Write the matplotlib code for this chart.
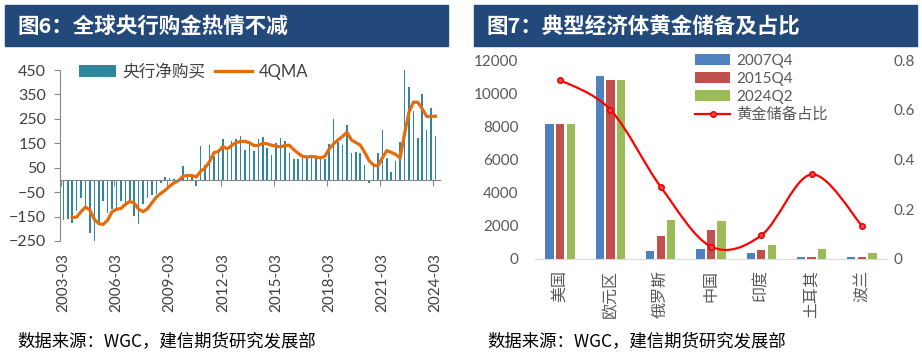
import numpy as np
import matplotlib
matplotlib.use('Agg')
import matplotlib.pyplot as plt
from matplotlib.patches import Rectangle, PathPatch
from matplotlib.lines import Line2D
from matplotlib.path import Path

plt.rcParams['font.family'] = ['Lato', 'Noto Sans CJK SC', 'DejaVu Sans']

nan = float('nan')

# 图6：央行季度净购买（吨），2003Q1 起
cb_net = [-165, -160, -175, -127, -73, -113, -216, -257, -182, -86,
          -134, -120, -113, -86, -99, -86, -147, -182, -99, -72,
          -62, -57, -14, 11, 8, 3, 5, 59, 11, 15,
          -23, 140, 60, 145, 100, 110, 168, 120, 159, 168,
          178, 123, 148, 117, 168, 175, 132, 102, 150, 170,
          160, 109, 84, 87, 96, 93, 92, 93, 90, 84,
          147, 250, 155, 145, 226, 112, 116, 110, 61, -12,
          55, 112, 205, 88, 33, 79, 157, 450, 382, 283,
          170, 353, 205, 296, 180]
qma4 = [nan, nan, -154, -152, -130, -111, -124, -161, -179, -182,
        -165, -130, -120, -117, -100, -88, -95, -120, -130, -118,
        -93, -70, -55, -42, -25, -12, -3, 15, 18, 18,
        12, 35, 50, 75, 112, 116, 137, 127, 141, 153,
        157, 158, 152, 141, 141, 150, 148, 142, 138, 135,
        141, 142, 124, 109, 96, 94, 96, 94, 90, 96,
        127, 148, 164, 178, 195, 164, 153, 143, 113, 79,
        61, 57, 90, 120, 113, 104, 90, 189, 277, 318,
        318, 291, 260, 260, 261]
date_labels = ['2003-03', '2006-03', '2009-03', '2012-03',
               '2015-03', '2018-03', '2021-03', '2024-03']

# 图7：黄金储备（吨）及占比
countries = ['美国', '欧元区', '俄罗斯', '中国', '印度', '土耳其', '波兰']
gold_2007q4 = [8133, 11050, 455, 600, 358, 116, 103]
gold_2015q4 = [8133, 10790, 1415, 1762, 557, 117, 103]
gold_2024q2 = [8133, 10770, 2336, 2264, 840, 585, 377]
gold_share = [0.72, 0.60, 0.29, 0.05, 0.095, 0.34, 0.134]

W, H = 922, 354
fig = plt.figure(figsize=(W / 100, H / 100), dpi=100)


def box(x0, y0, x1, y1):
    return [x0 / W, 1 - y1 / H, (x1 - x0) / W, (y1 - y0) / H]


# 标题栏
for x0, x1, title in [(5, 448, '图6：全球央行购金热情不减'),
                      (474, 917, '图7：典型经济体黄金储备及占比')]:
    fig.patches.append(Rectangle((x0 / W, 1 - 46 / H), (x1 - x0) / W, 41 / H,
                                 transform=fig.transFigure, color='#23497B'))
    fig.text((x0 + 12) / W, 1 - 26 / H, title, color='white', fontsize=15.5,
             fontweight='bold', va='center', family=['Noto Sans CJK SC'])

# ---- 图6 ----
ax = fig.add_axes(box(60, 70, 440, 241))
x = np.arange(len(cb_net))
bars = ax.bar(x, cb_net, width=0.35, color='#31859C')
line, = ax.plot(x, qma4, color='#E46C0A', lw=2.3, solid_joinstyle='round')
ax.set_xlim(-0.75, 85)
ax.set_ylim(-250, 450)
ax.set_yticks(range(-250, 451, 100))
for s in ['top', 'right']:
    ax.spines[s].set_visible(False)
ax.spines['left'].set_color('#868686')
ax.spines['bottom'].set_position(('data', 0))
ax.spines['bottom'].set_color('#868686')
tick_pos = np.arange(len(date_labels)) * 12
ax.set_xticks(tick_pos - 0.5, [''] * len(tick_pos))
ax.tick_params(axis='x', length=4, color='#868686')
ax.tick_params(axis='y', length=4, color='#868686', labelsize=11.5,
               labelcolor='#404040', pad=6)
sec = ax.secondary_xaxis('bottom')
sec.spines['bottom'].set_visible(False)
sec.set_xticks(tick_pos, date_labels, rotation=90)
sec.tick_params(length=0, pad=9, labelsize=11, labelcolor='#404040')
ax.legend([bars, line], ['央行净购买', '4QMA'], loc='upper left',
          bbox_to_anchor=(79 / W, 1 - 64 / H),
          bbox_transform=fig.transFigure, ncol=2, frameon=False, fontsize=12,
          labelcolor='#404040', handlelength=2.2, columnspacing=0.6,
          handletextpad=0.4, borderaxespad=0, borderpad=0)

# ---- 图7 ----
ax1 = fig.add_axes(box(535, 60, 887, 259))
xc = np.arange(len(countries))
bw, off = 0.165, 0.21
b1 = ax1.bar(xc - off, gold_2007q4, bw, color='#4F81BD')
b2 = ax1.bar(xc, gold_2015q4, bw, color='#C0504D')
b3 = ax1.bar(xc + off, gold_2024q2, bw, color='#9BBB59')
ax1.set_xlim(-0.5, 6.5)
ax1.set_ylim(0, 12000)
ax1.set_yticks(range(0, 12001, 2000))
for s in ['top', 'right', 'left']:
    ax1.spines[s].set_visible(False)
ax1.spines['bottom'].set_color('#D9D9D9')
ax1.set_xticks(xc, countries, rotation=90)
ax1.tick_params(axis='x', length=0, pad=8, labelsize=11.5, labelcolor='#595959')
ax1.tick_params(axis='y', length=0, pad=12, labelsize=11, labelcolor='#595959')

ax2 = ax1.twinx()
ax2.set_ylim(0, 0.8)
ax2.set_yticks([0, 0.2, 0.4, 0.6, 0.8], ['0', '0.2', '0.4', '0.6', '0.8'])
for s in ax2.spines.values():
    s.set_visible(False)
ax2.tick_params(axis='y', length=0, pad=5, labelsize=11, labelcolor='#595959')

# 平滑曲线（三次贝塞尔）
pts = np.column_stack([xc, gold_share]).astype(float)
verts, codes = [pts[0]], [Path.MOVETO]
n = len(pts)
for i in range(n - 1):
    p0, p1 = pts[max(i - 1, 0)], pts[i]
    p2, p3 = pts[i + 1], pts[min(i + 2, n - 1)]
    verts += [p1 + (p2 - p0) / 6, p2 - (p3 - p1) / 6, p2]
    codes += [Path.CURVE4] * 3
ax2.add_patch(PathPatch(Path(verts, codes), fill=False, edgecolor='#FF0000', lw=1.6))
ax2.plot(xc, gold_share, 'o', ms=4, mfc='#FF4040', mec='#E00000', mew=1)

line_handle = Line2D([], [], color='#FF0000', lw=1.6, marker='o', ms=4,
                     mfc='#FF4040', mec='#E00000')
fig.legend([b1, b2, b3, line_handle], ['2007Q4', '2015Q4', '2024Q2', '黄金储备占比'],
           loc='upper left', bbox_to_anchor=(695 / W, 1 - 54 / H), frameon=False,
           fontsize=11, labelcolor='#595959', handlelength=2.3, handletextpad=0.4,
           labelspacing=0.25, borderpad=0, borderaxespad=0)

# 数据来源
for x0 in (17, 487):
    fig.text(x0 / W, 1 - 341 / H, '数据来源：WGC，建信期货研究发展部', fontsize=12.5,
             style='italic', va='center', family=['Noto Sans CJK SC'])

fig.savefig('out.png', dpi=100)
